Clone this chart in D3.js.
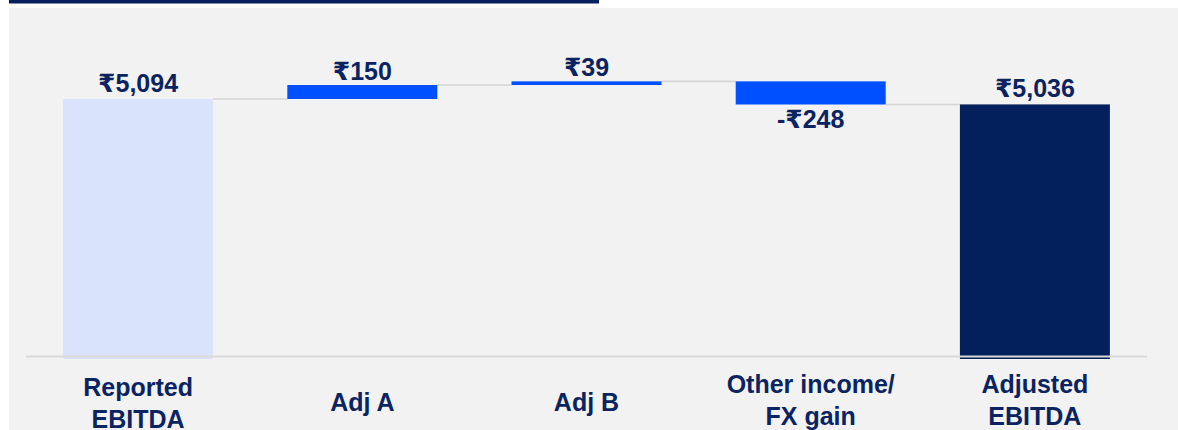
<!DOCTYPE html>
<html>
<head>
<meta charset="utf-8">
<script src="https://cdn.jsdelivr.net/npm/d3@7"></script>
<style>
  html, body { margin: 0; padding: 0; background: #ffffff; }
  svg { display: block; }
</style>
</head>
<body>
<svg id="chart" width="1178" height="430"></svg>
<script>
// waterfall data
const categories = [['Reported', 'EBITDA'], ['Adj A'], ['Adj B'], ['Other income/', 'FX gain'], ['Adjusted', 'EBITDA']];
const values = [5094, 150, 39, -248, 5036];
const kinds = ['total', 'delta', 'delta', 'delta', 'total'];
const valueLabels = ['₹5,094', '₹150', '₹39', '-₹248', '₹5,036'];

const W = 1178, H = 430;
const navy = '#04205c';
const textColor = '#0b2461';
const fills = { first: '#d9e3fb', delta: '#0050ff', last: '#04205c' };
const font = '"Liberation Sans", Arial, "DejaVu Sans", sans-serif';

const svg = d3.select('#chart');

// background panel and top rule
svg.append('rect').attr('x', 9).attr('y', 8).attr('width', W - 9).attr('height', H - 8).attr('fill', '#f2f2f2');
svg.append('rect').attr('x', 9).attr('y', 0).attr('width', 590).attr('height', 3.5).attr('fill', navy);

// compute waterfall steps
let running = 0;
const steps = values.map((v, i) => {
  let start, end;
  if (kinds[i] === 'total') { start = null; end = v; running = v; }
  else { start = running; end = running + v; running = end; }
  return { i, v, start, end, kind: kinds[i] };
});

const x = d3.scaleBand()
  .domain(d3.range(categories.length))
  .range([26, 1147])
  .paddingInner(0.331)
  .paddingOuter(0.1655);

const y = d3.scaleLinear()
  .domain([2308, 5244])
  .range([359, 85]);

const base = y.domain()[0];

// connectors
const conn = svg.append('g');
steps.slice(0, -1).forEach((s, i) => {
  conn.append('line')
    .attr('x1', x(i) + x.bandwidth())
    .attr('x2', x(i + 1))
    .attr('y1', y(s.end))
    .attr('y2', y(s.end))
    .attr('stroke', '#d5d5d5')
    .attr('stroke-width', 1.6);
});

// bars
svg.append('g').selectAll('rect')
  .data(steps)
  .enter()
  .append('rect')
  .attr('x', d => x(d.i))
  .attr('width', x.bandwidth())
  .attr('y', d => d.kind === 'total' ? y(d.end) : y(Math.max(d.start, d.end)))
  .attr('height', d => d.kind === 'total' ? y(base) - y(d.end) : Math.abs(y(d.start) - y(d.end)))
  .attr('fill', d => d.kind === 'delta' ? fills.delta : (d.i === 0 ? fills.first : fills.last));

// baseline
svg.append('line')
  .attr('x1', 26).attr('x2', 1147)
  .attr('y1', y(base) - 2.5).attr('y2', y(base) - 2.5)
  .attr('stroke', '#d9d9d9')
  .attr('stroke-width', 2);

// value labels
svg.append('g').selectAll('text')
  .data(steps)
  .enter()
  .append('text')
  .attr('x', d => x(d.i) + x.bandwidth() / 2)
  .attr('y', d => {
    if (d.kind === 'total') return y(d.end) - 7;
    if (d.v >= 0) return y(d.end) - 5;
    return y(d.end) + 23;
  })
  .attr('text-anchor', 'middle')
  .attr('font-family', font)
  .attr('font-weight', 'bold')
  .attr('font-size', 25)
  .attr('fill', textColor)
  .text(d => valueLabels[d.i]);

// category labels
const cat = svg.append('g').selectAll('text')
  .data(categories)
  .enter()
  .append('text')
  .attr('x', (d, i) => x(i) + x.bandwidth() / 2)
  .attr('y', (d, i) => d.length === 1 ? 411 : (i === 0 ? 396 : 393))
  .attr('text-anchor', 'middle')
  .attr('font-family', font)
  .attr('font-weight', 'bold')
  .attr('font-size', 25)
  .attr('fill', textColor);

cat.selectAll('tspan')
  .data(d => d)
  .enter()
  .append('tspan')
  .attr('x', function () { return d3.select(this.parentNode).attr('x'); })
  .attr('dy', (d, j) => j === 0 ? 0 : 32)
  .text(d => d);
</script>
</body>
</html>
